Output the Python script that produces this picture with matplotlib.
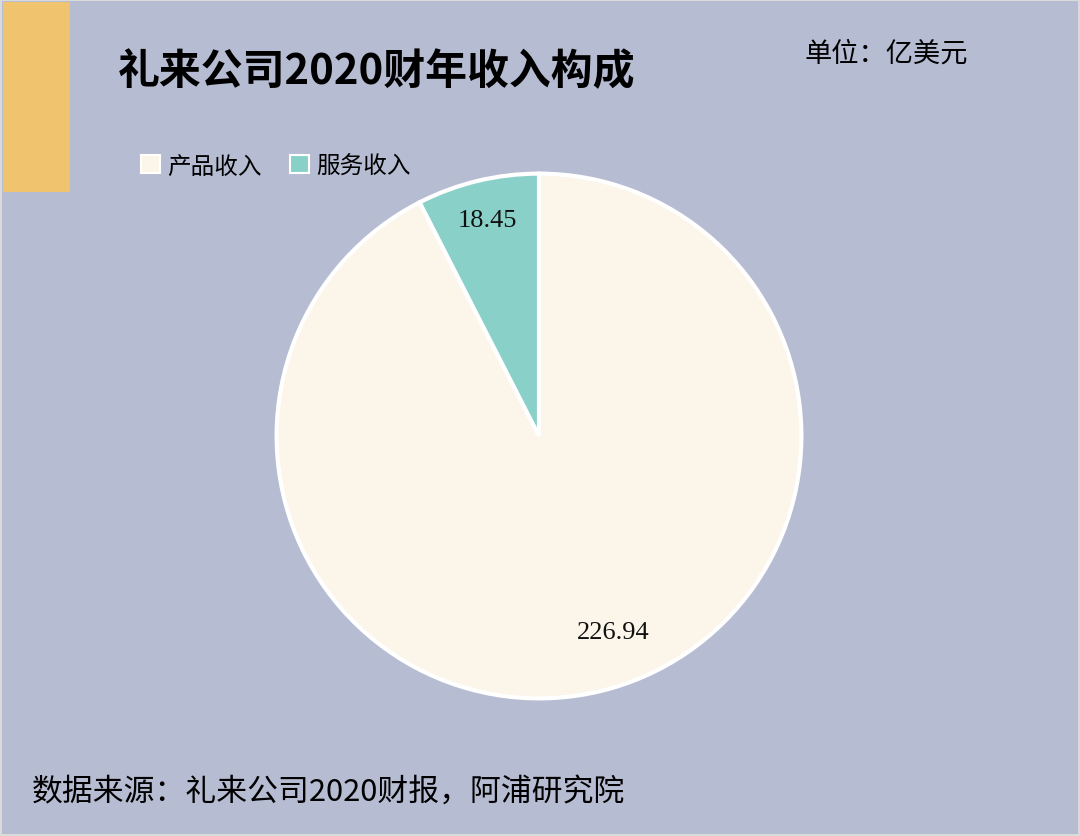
import matplotlib
matplotlib.use("Agg")
import matplotlib.pyplot as plt
from matplotlib.patches import Rectangle, Patch
import numpy as np

plt.rcParams['font.family'] = ['Noto Sans CJK SC', 'DejaVu Sans']

title = "礼来公司2020财年收入构成"
unit = "单位：亿美元"
source = "数据来源：礼来公司2020财报，阿浦研究院"
categories = ["产品收入", "服务收入"]
values = [226.94, 18.45]
value_labels = ["226.94", "18.45"]

colors = ["#FBF5EA", "#89D1C8"]
bg = "#B6BCD2"
accent = "#F0C46F"

W, H = 1080, 837
fig = plt.figure(figsize=(W / 100, H / 100), dpi=100, facecolor=bg)

# outer border
fig.patches.append(Rectangle((0, 0), 1, 1, transform=fig.transFigure, fill=False,
                             edgecolor="#DADADA", linewidth=3, zorder=0))
# accent block
fig.patches.append(Rectangle((3 / W, 1 - 193 / H), 67 / W, 190 / H, transform=fig.transFigure,
                             facecolor=accent, edgecolor="none", zorder=1))

fig.text(118 / W, 1 - 72 / H, title, fontsize=30.2, fontweight="bold", va="center", ha="left")
fig.text(805 / W, 1 - 54 / H, unit, fontsize=19.6, va="center", ha="left")
fig.text(32 / W, 1 - 792 / H, source, fontsize=22.2, va="center", ha="left")

cx, cy, r = 539, 437, 265
ax = fig.add_axes([(cx - r) / W, (H - cy - r) / H, 2 * r / W, 2 * r / H])
ax.set_facecolor("none")
wedges, _ = ax.pie(values, colors=colors, startangle=90, counterclock=False, radius=1,
                   wedgeprops=dict(edgecolor="white", linewidth=3))
ax.set_xlim(-1.01, 1.01)
ax.set_ylim(-1.01, 1.01)
ax.set_aspect("equal")
ax.axis("off")

# label placement (Excel-like best fit)
label_dist = [0.80, 0.846]
angle_shift = [7.2, 0.0]
for w, lab, d, s in zip(wedges, value_labels, label_dist, angle_shift):
    ang = np.deg2rad((w.theta1 + w.theta2) / 2 + s)
    ax.text(d * np.cos(ang), d * np.sin(ang), lab, ha="center", va="center",
            fontsize=19, family="Liberation Serif", color="#111111")

handles = [Patch(facecolor=c, edgecolor="white", linewidth=1.5) for c in colors]
leg = fig.legend(handles, categories, loc="center left", bbox_to_anchor=(141 / W, 1 - 167 / H),
                 ncol=2, frameon=False, fontsize=17, handlelength=0.8, handleheight=0.8,
                 handletextpad=0.3, columnspacing=1.2, borderaxespad=0, borderpad=0)

fig.savefig("out.png", dpi=100, facecolor=bg)
